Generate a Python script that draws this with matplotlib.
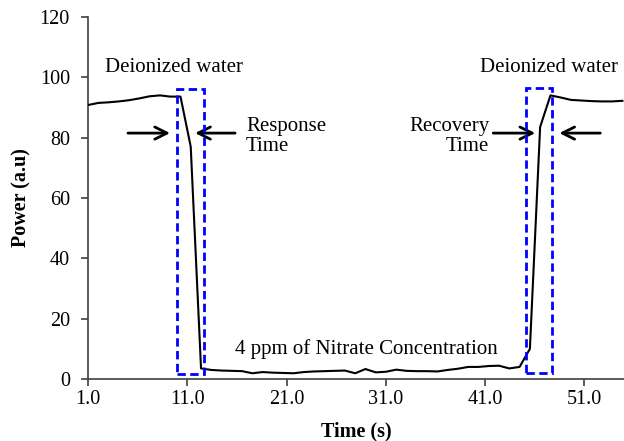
import matplotlib
matplotlib.use("Agg")
import matplotlib.pyplot as plt
from matplotlib.patches import Rectangle

plt.rcParams['font.family'] = ['Liberation Serif', 'DejaVu Serif']

# ---- data ----
time_s = [1.00, 2.04, 3.07, 4.11, 5.14, 6.18, 7.21, 8.25, 9.28, 10.32,
          11.35, 12.39, 13.42, 14.46, 15.49, 16.53, 17.56, 18.60, 19.64, 20.67,
          21.71, 22.74, 23.78, 24.81, 25.85, 26.88, 27.92, 28.95, 29.99, 31.02,
          32.06, 33.09, 34.13, 35.17, 36.20, 37.24, 38.27, 39.31, 40.34, 41.38,
          42.41, 43.45, 44.48, 45.52, 46.55, 47.59, 48.62, 49.66, 50.70, 51.73,
          52.77, 53.80, 54.84]
power = [90.8, 91.5, 91.7, 92.0, 92.4, 93.0, 93.7, 94.0, 93.6, 93.6,
         77.0, 3.5, 3.0, 2.8, 2.7, 2.6, 1.9, 2.3, 2.1, 2.0,
         1.9, 2.3, 2.5, 2.6, 2.7, 2.8, 1.9, 3.3, 2.2, 2.4,
         3.1, 2.7, 2.6, 2.6, 2.5, 3.0, 3.4, 4.0, 4.0, 4.3,
         4.4, 3.5, 4.0, 10.0, 83.5, 94.0, 93.3, 92.5, 92.3, 92.1,
         92.0, 92.0, 92.2]
x_ticks = [1, 11, 21, 31, 41, 51]
x_tick_labels = ["1.0", "11.0", "21.0", "31.0", "41.0", "51.0"]
y_ticks = [0, 20, 40, 60, 80, 100, 120]

# annotation boxes (t0, t1, p0, p1)
response_box = (10.0, 12.69, 1.6, 96.1)
recovery_box = (45.15, 47.74, 1.9, 96.3)

fig = plt.figure(figsize=(6.24, 4.41), dpi=100)
ax = fig.add_axes([0.141, 0.1406, 0.859, 0.821])

ax.plot(time_s, power, color='black', lw=1.5, zorder=3)

for (t0, t1, p0, p1) in (response_box, recovery_box):
    ax.add_patch(Rectangle((t0, p0), t1 - t0, p1 - p0, fill=False,
                           edgecolor='#0000FF', lw=2.0,
                           linestyle=(0, (3, 1.6)), zorder=4))

ax.set_xlim(1, 55.0)
ax.set_ylim(0, 120)
ax.set_xticks(x_ticks)
ax.set_xticklabels(x_tick_labels)
ax.set_yticks(y_ticks)

for s in ('top', 'right'):
    ax.spines[s].set_visible(False)
for s in ('left', 'bottom'):
    ax.spines[s].set_color('#404040')
    ax.spines[s].set_linewidth(1.2)
ax.tick_params(direction='out', length=5, width=1.2, color='#404040',
               labelsize=14.5)
ax.tick_params(axis='y', pad=8)
ax.tick_params(axis='x', pad=3)

ax.set_xlabel('Time (s)', fontsize=14.5, fontweight='bold', labelpad=9)
ax.set_ylabel('Power (a.u)', fontsize=14.5, fontweight='bold', labelpad=6)

fs = 15
ax.text(9.67, 103.3, 'Deionized water', fontsize=fs, ha='center', va='center')
ax.text(47.47, 103.3, 'Deionized water', fontsize=fs, ha='center', va='center', clip_on=False)
ax.text(16.93, 80.3, 'Response\nTime', fontsize=fs, ha='left', va='center', linespacing=1.05)
ax.text(41.42, 80.3, 'Recovery\nTime', fontsize=fs, ha='right', va='center',
        multialignment='right', linespacing=1.05)
ax.text(29.0, 10.0, '4 ppm of Nitrate Concentration', fontsize=fs, ha='center', va='center')

aprops = dict(arrowstyle='->', lw=2.0, color='black', mutation_scale=22,
              shrinkA=0, shrinkB=0)
ay = 81.5
ax.annotate('', xy=(9.27, ay), xytext=(5.03, ay), arrowprops=aprops)
ax.annotate('', xy=(11.79, ay), xytext=(15.82, ay), arrowprops=aprops)
ax.annotate('', xy=(46.06, ay), xytext=(41.83, ay), arrowprops=aprops)
ax.annotate('', xy=(48.48, ay), xytext=(52.61, ay), arrowprops=aprops)

fig.savefig('out.png', dpi=100)
